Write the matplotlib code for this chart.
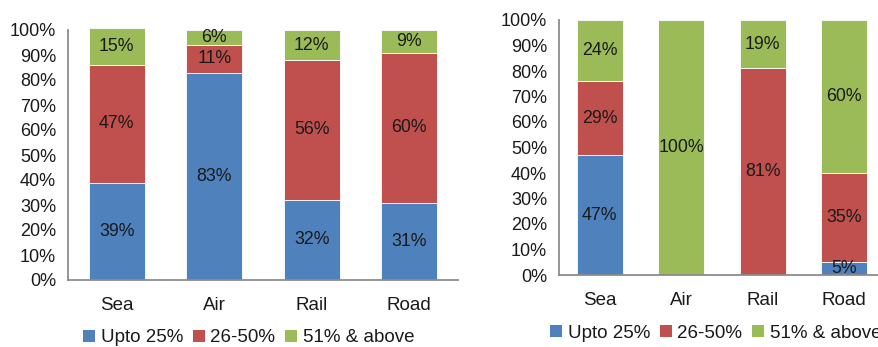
import matplotlib
matplotlib.use("Agg")
import matplotlib.pyplot as plt
from matplotlib.patches import Patch
import numpy as np

plt.rcParams['font.family'] = ['Liberation Sans', 'DejaVu Sans']

categories = ["Sea", "Air", "Rail", "Road"]
series_names = ["Upto 25%", "26-50%", "51% & above"]
colors = ["#4F81BD", "#C0504D", "#9BBB59"]

# Left panel shares (%)
left_upto25 = [39, 83, 32, 31]
left_26_50 = [47, 11, 56, 60]
left_51_above = [15, 6, 12, 9]

# Right panel shares (%)
right_upto25 = [47, 0, 0, 5]
right_26_50 = [29, 0, 81, 35]
right_51_above = [24, 100, 19, 60]

yticks = [0, 10, 20, 30, 40, 50, 60, 70, 80, 90, 100]

W, H = 879, 347
fig = plt.figure(figsize=(W / 100, H / 100), dpi=100)


def panel(rect, series, bar_width):
    ax = fig.add_axes(rect)
    x = np.arange(len(categories))
    bottom = np.zeros(len(categories))
    for vals, col in zip(series, colors):
        vals = np.array(vals, dtype=float)
        ax.bar(x, vals, bar_width, bottom=bottom, color=col,
               edgecolor="white", linewidth=0.6, clip_on=False, zorder=2)
        for xi, b, v in zip(x, bottom, vals):
            if v > 0:
                ax.text(xi, b + v / 2, f"{int(v)}%", ha="center", va="center",
                        fontsize=12.8, color="#1a1a1a", zorder=3)
        bottom += vals
    ax.set_xlim(-0.5, len(categories) - 0.5)
    ax.set_ylim(0, 100)
    ax.set_yticks(yticks)
    ax.set_yticklabels([f"{t}%" for t in yticks])
    ax.set_xticks(x)
    ax.set_xticklabels(categories)
    for s in ("top", "right"):
        ax.spines[s].set_visible(False)
    for s in ("left", "bottom"):
        ax.spines[s].set_color("#8c8c8c")
        ax.spines[s].set_linewidth(1.3)
    ax.tick_params(axis="y", length=0, pad=8.5, labelsize=13, labelcolor="#1a1a1a")
    ax.tick_params(axis="x", length=0, pad=12, labelsize=13.5, labelcolor="#1a1a1a")
    ax.patch.set_alpha(0)
    return ax


panel([68 / W, (H - 280) / H, 390 / W, 250 / H],
      [left_upto25, left_26_50, left_51_above], 0.57)
panel([559 / W, (H - 275) / H, 326 / W, 255 / H],
      [right_upto25, right_26_50, right_51_above], 0.57)

handles = [Patch(facecolor=c, edgecolor="none") for c in colors]
for x0, y0 in ((83, 338), (550, 333)):
    fig.legend(handles, series_names, loc="center left",
               bbox_to_anchor=(x0 / W, 1 - y0 / H), ncol=3, frameon=False,
               fontsize=13.5, handlelength=0.65, handleheight=0.65,
               handletextpad=0.3, columnspacing=0.5, borderpad=0,
               borderaxespad=0, labelcolor="#1a1a1a")

fig.savefig("out.png", dpi=100)
